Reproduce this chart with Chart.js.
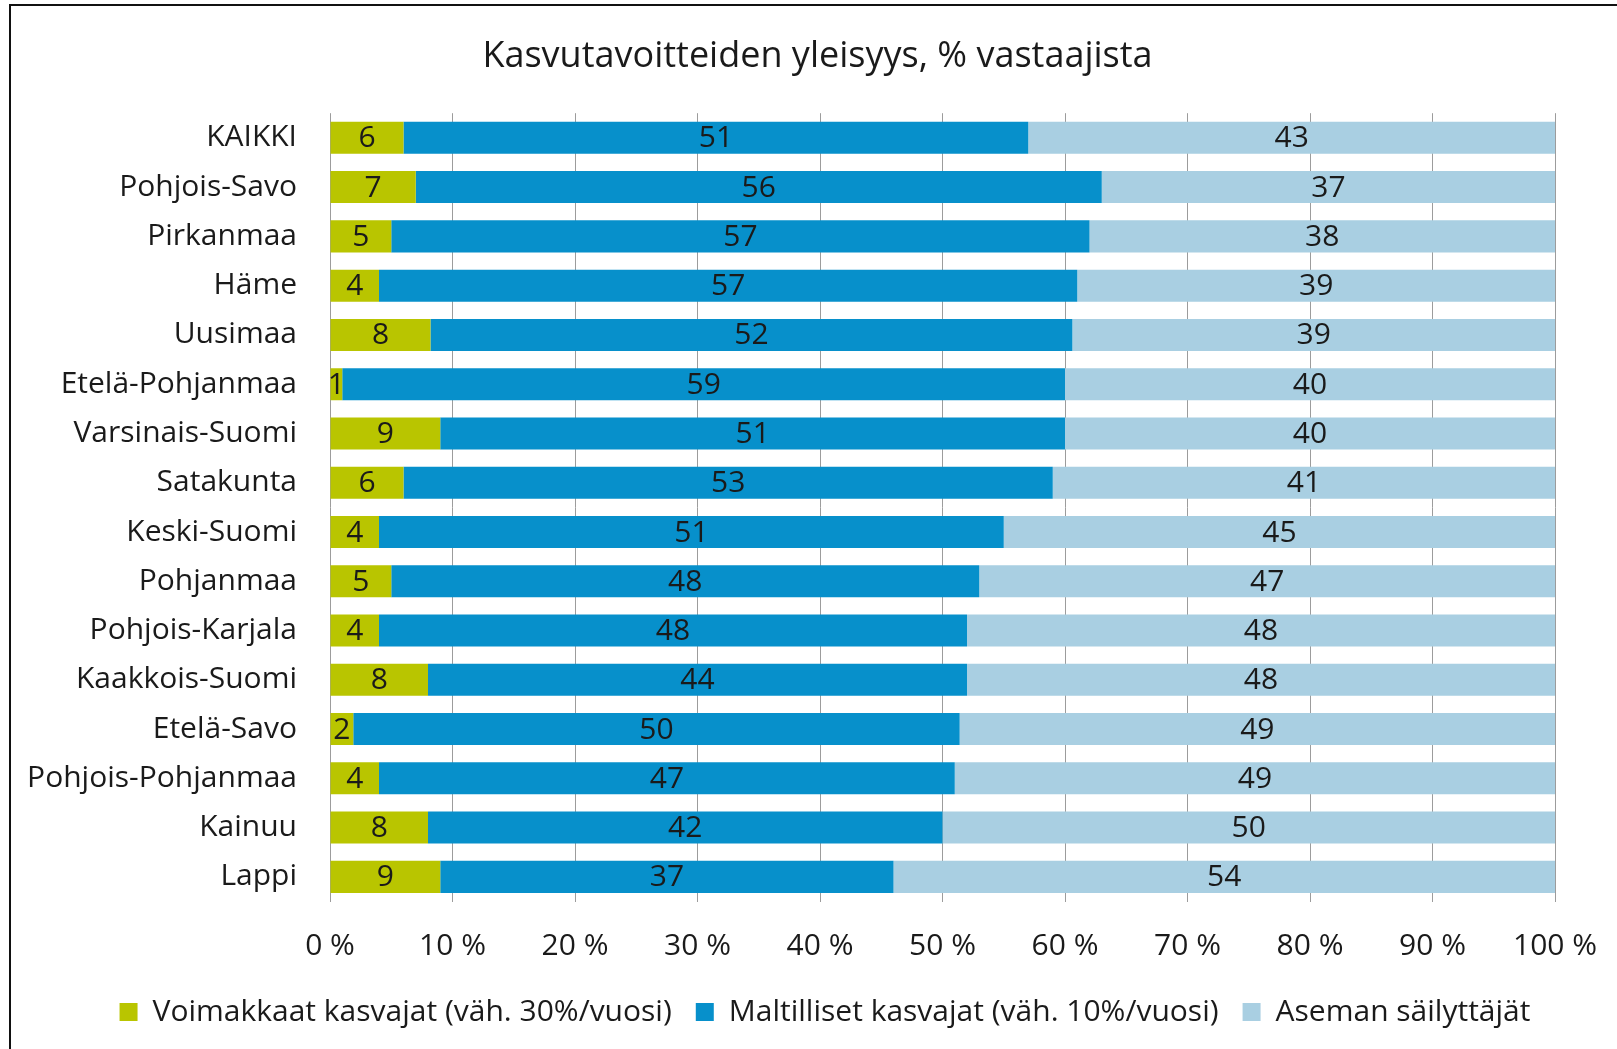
<!DOCTYPE html>
<html>
<head>
<meta charset="utf-8">
<script src="https://cdn.jsdelivr.net/npm/chart.js@4/dist/chart.umd.min.js"></script>
<style>
  html, body { margin: 0; padding: 0; background: #fff; overflow: hidden; }
  .frame { position: absolute; left: 9px; top: 4px; width: 1700px; height: 1100px; border: 2px solid #111; box-sizing: border-box; pointer-events: none; }
  canvas { position: absolute; left: 0; top: 0; }
</style>
</head>
<body>
<canvas id="chart" width="1617" height="1049"></canvas>
<div class="frame"></div>
<script>
const TITLE = 'Kasvutavoitteiden yleisyys, % vastaajista';

const REGIONS = [
  'KAIKKI', 'Pohjois-Savo', 'Pirkanmaa', 'Häme', 'Uusimaa', 'Etelä-Pohjanmaa',
  'Varsinais-Suomi', 'Satakunta', 'Keski-Suomi', 'Pohjanmaa', 'Pohjois-Karjala',
  'Kaakkois-Suomi', 'Etelä-Savo', 'Pohjois-Pohjanmaa', 'Kainuu', 'Lappi',
];

const SERIES_NAMES = [
  'Voimakkaat kasvajat (väh. 30%/vuosi)',
  'Maltilliset kasvajat (väh. 10%/vuosi)',
  'Aseman säilyttäjät',
];

// shares in percent, one entry per region
const strong   = [6, 7, 5, 4, 8.2, 1, 9, 6, 4, 5, 4, 8, 1.9, 4, 8, 9];
const moderate = [51, 56, 57, 57, 52.4, 59, 51, 53, 51, 48, 48, 44, 49.5, 47, 42, 37];
const keeping  = [43, 37, 38, 39, 39.4, 40, 40, 41, 45, 47, 48, 48, 48.6, 49, 50, 54];

const X_TICKS = [0, 10, 20, 30, 40, 50, 60, 70, 80, 90, 100];

const COLORS = ['#b9c500', '#0790cb', '#a9cfe2'];
const FONT = '"Open Sans", "Noto Sans", sans-serif';
const INK = '#1a1a1a';

const segmentLabels = {
  id: 'segmentLabels',
  afterDatasetsDraw(chart) {
    const { ctx } = chart;
    ctx.save();
    ctx.font = `30px ${FONT}`;
    ctx.fillStyle = INK;
    ctx.textAlign = 'center';
    ctx.textBaseline = 'middle';
    chart.data.datasets.forEach((ds, i) => {
      chart.getDatasetMeta(i).data.forEach((bar, j) => {
        const { x, y, base } = bar.getProps(['x', 'y', 'base'], true);
        ctx.fillText(String(Math.round(ds.data[j])), (x + base) / 2, y + 1);
      });
    });
    ctx.restore();
  },
};

// title and legend sit centred a bit right of the canvas middle
const shiftBlocks = {
  id: 'shiftBlocks',
  afterLayout(chart) {
    if (chart.titleBlock) chart.titleBlock.left += 80;
    if (chart.legend) chart.legend.left += 95;
  },
};

const ctx = document.getElementById('chart').getContext('2d');
new Chart(ctx, {
  type: 'bar',
  data: {
    labels: REGIONS,
    datasets: [strong, moderate, keeping].map((data, i) => ({
      label: SERIES_NAMES[i],
      data,
      backgroundColor: COLORS[i],
      borderWidth: 0,
      categoryPercentage: 1,
      barPercentage: 0.65,
    })),
  },
  options: {
    indexAxis: 'y',
    responsive: false,
    animation: false,
    devicePixelRatio: 1,
    layout: { padding: { left: 0, right: 62, top: 0, bottom: 12 } },
    scales: {
      x: {
        stacked: true,
        min: 0,
        max: 100,
        afterBuildTicks(scale) { scale.ticks = X_TICKS.map((value) => ({ value })); },
        afterFit(scale) { scale.height = 71.5; },
        grid: { color: '#9c9c9c', lineWidth: 1, drawTicks: true, tickLength: 26, tickColor: 'rgba(0,0,0,0)' },
        border: { display: false },
        ticks: {
          padding: 0.5,
          color: INK,
          font: { family: FONT, size: 30 },
          callback: (value) => `${value} %`,
        },
      },
      y: {
        stacked: true,
        afterFit(scale) { scale.width = 330; },
        grid: { display: false, drawTicks: false },
        border: { display: false },
        ticks: {
          padding: 33,
          color: INK,
          font: { family: FONT, size: 30 },
        },
      },
    },
    plugins: {
      title: {
        display: true,
        text: TITLE,
        color: INK,
        font: { family: FONT, size: 36, weight: 'normal' },
        padding: { top: 35, bottom: 35 },
      },
      legend: {
        position: 'bottom',
        labels: {
          boxWidth: 18,
          boxHeight: 18,
          padding: 24,
          color: INK,
          font: { family: FONT, size: 30 },
        },
      },
      tooltip: { enabled: false },
    },
  },
  plugins: [segmentLabels, shiftBlocks],
});
</script>
</body>
</html>
